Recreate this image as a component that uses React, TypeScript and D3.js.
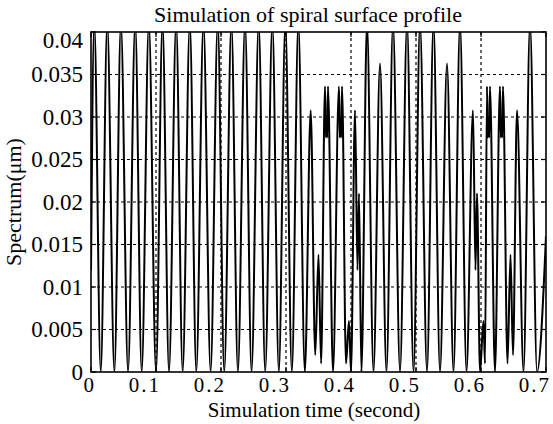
import React from 'react';
import * as d3 from 'd3';

const TITLE = 'Simulation of spiral surface profile';
const X_LABEL = 'Simulation time (second)';
const Y_LABEL = 'Spectrum(μm)';

const xTickValues = [0, 0.1, 0.2, 0.3, 0.4, 0.5, 0.6, 0.7];
const xTickLabels = ['0', '0.1', '0.2', '0.3', '0.4', '0.5', '0.6', '0.7'];
const yTickValues = [0, 0.005, 0.01, 0.015, 0.02, 0.025, 0.03, 0.035, 0.04];
const yTickLabels = ['0', '0.005', '0.01', '0.015', '0.02', '0.025', '0.03', '0.035', '0.04'];

// Turning points (peaks / troughs) of the simulated profile
const extremeTimes = [
  0, 0.005, 0.015, 0.025, 0.036, 0.046, 0.057, 0.068, 0.078, 0.089, 0.1, 0.11, 0.12, 0.131, 0.141,
  0.152, 0.162, 0.173, 0.184, 0.195, 0.205, 0.216, 0.226, 0.237, 0.247, 0.258, 0.268, 0.279, 0.289,
  0.299, 0.309, 0.319, 0.329, 0.338, 0.345, 0.35, 0.354, 0.36, 0.3615, 0.3625, 0.3635, 0.3646,
  0.3723, 0.3815, 0.3828, 0.3838, 0.3849, 0.3862, 0.3923, 0.3969, 0.4, 0.4062, 0.41, 0.4123, 0.416,
  0.4246, 0.4346, 0.4446, 0.4546, 0.4646, 0.4754, 0.4862, 0.4962, 0.5062, 0.5169, 0.5269, 0.5369,
  0.5477, 0.5577, 0.5677, 0.5777, 0.5877, 0.5915, 0.5938, 0.5985, 0.6038, 0.6062, 0.6092, 0.6105,
  0.6115, 0.6126, 0.6138, 0.6215, 0.6292, 0.6305, 0.6315, 0.6326, 0.6338, 0.6408, 0.6454, 0.6492,
  0.6554, 0.6654, 0.6754, 0.6862, 0.7,
];
const extremeValues = [
  0.012, 0.041, 0, 0.041, 0, 0.041, 0, 0.041, 0, 0.041, 0, 0.041, 0, 0.041, 0,
  0.041, 0, 0.041, 0, 0.041, 0, 0.041, 0, 0.041, 0, 0.041, 0, 0.041, 0,
  0.041, 0, 0.041, 0, 0.0308, 0.002, 0.0138, 0.001, 0.0336, 0.0276, 0.0298, 0.0276, 0.0336,
  0, 0.0336, 0.0276, 0.0298, 0.0276, 0.0336, 0.001, 0.006, 0, 0.0308, 0.012, 0.021, 0,
  0.041, 0, 0.0363, 0, 0.041, 0, 0.041, 0, 0.041, 0, 0.041, 0,
  0.0363, 0, 0.041, 0, 0.0308, 0.012, 0.021, 0, 0.006, 0.001, 0.0336, 0.0276,
  0.0298, 0.0276, 0.0336, 0, 0.0336, 0.0276, 0.0298, 0.0276, 0.0336, 0.001, 0.0138, 0.002,
  0.0308, 0, 0.041, 0, 0.016,
];

const W = 553;
const H = 424;
const M = { left: 91, right: 546, top: 32, bottom: 372 };
const FONT = '"Liberation Serif", "Times New Roman", serif';

export default function App() {
  const x = d3.scaleLinear().domain([0, 0.7]).range([M.left, M.right]);
  const y = d3.scaleLinear().domain([0, 0.04]).range([M.bottom, M.top]);
  const pts: [number, number][] = extremeTimes.map((t, i) => [t, extremeValues[i]]);
  const line = d3
    .line<[number, number]>()
    .x((d) => x(d[0]))
    .y((d) => y(d[1]))
    .curve(d3.curveMonotoneX);
  const tickLen = 5;
  return (
    <svg
      width={W}
      height={H}
      style={{ position: 'absolute', left: 0, top: 0, background: '#fff' }}
      fontFamily={FONT}
    >
      <defs>
        <clipPath id="plotclip">
          <rect x={M.left} y={M.top} width={M.right - M.left} height={M.bottom - M.top} />
        </clipPath>
      </defs>
      <rect x={0} y={0} width={W} height={H} fill="#fff" />
      {/* grid */}
      <g stroke="#000" strokeWidth={1.2} strokeDasharray="3,3">
        {xTickValues.slice(1, -1).map((v) => (
          <line key={'gx' + v} x1={x(v)} x2={x(v)} y1={M.top} y2={M.bottom} />
        ))}
        {yTickValues.slice(1, -1).map((v) => (
          <line key={'gy' + v} x1={M.left} x2={M.right} y1={y(v)} y2={y(v)} />
        ))}
      </g>
      {/* data */}
      <path
        d={line(pts) || ''}
        fill="none"
        stroke="#000"
        strokeWidth={2}
        strokeLinejoin="round"
        clipPath="url(#plotclip)"
      />
      {/* frame */}
      <rect
        x={M.left}
        y={M.top}
        width={M.right - M.left}
        height={M.bottom - M.top}
        fill="none"
        stroke="#000"
        strokeWidth={1.6}
      />
      {/* ticks */}
      <g stroke="#000" strokeWidth={1.2}>
        {xTickValues.map((v) => (
          <g key={'tx' + v}>
            <line x1={x(v)} x2={x(v)} y1={M.bottom} y2={M.bottom - tickLen} />
            <line x1={x(v)} x2={x(v)} y1={M.top} y2={M.top + tickLen} />
          </g>
        ))}
        {yTickValues.map((v) => (
          <g key={'ty' + v}>
            <line x1={M.left} x2={M.left + tickLen} y1={y(v)} y2={y(v)} />
            <line x1={M.right} x2={M.right - tickLen} y1={y(v)} y2={y(v)} />
          </g>
        ))}
      </g>
      {/* tick labels */}
      <g fill="#000">
        {xTickValues.map((v, i) => (
          <text key={'lx' + v} x={x(v) + 5} y={392} textAnchor="end" letterSpacing={2} fontSize={21}>
            {xTickLabels[i]}
          </text>
        ))}
        {yTickValues.map((v, i) => (
          <text
            key={'ly' + v}
            x={M.left - 8}
            y={Math.max(y(v), M.top + 8)}
            textAnchor="end"
            dominantBaseline="central"
            fontSize={23}
          >
            {yTickLabels[i]}
          </text>
        ))}
      </g>
      {/* titles */}
      <text x={308} y={22} textAnchor="middle" fontSize={22} fill="#000">
        {TITLE}
      </text>
      <text x={314} y={417} textAnchor="middle" fontSize={21} fill="#000">
        {X_LABEL}
      </text>
      <text
        transform={`translate(21,${(M.top + M.bottom) / 2}) rotate(-90)`}
        textAnchor="middle"
        fontSize={22}
        fill="#000"
      >
        {Y_LABEL}
      </text>
    </svg>
  );
}
